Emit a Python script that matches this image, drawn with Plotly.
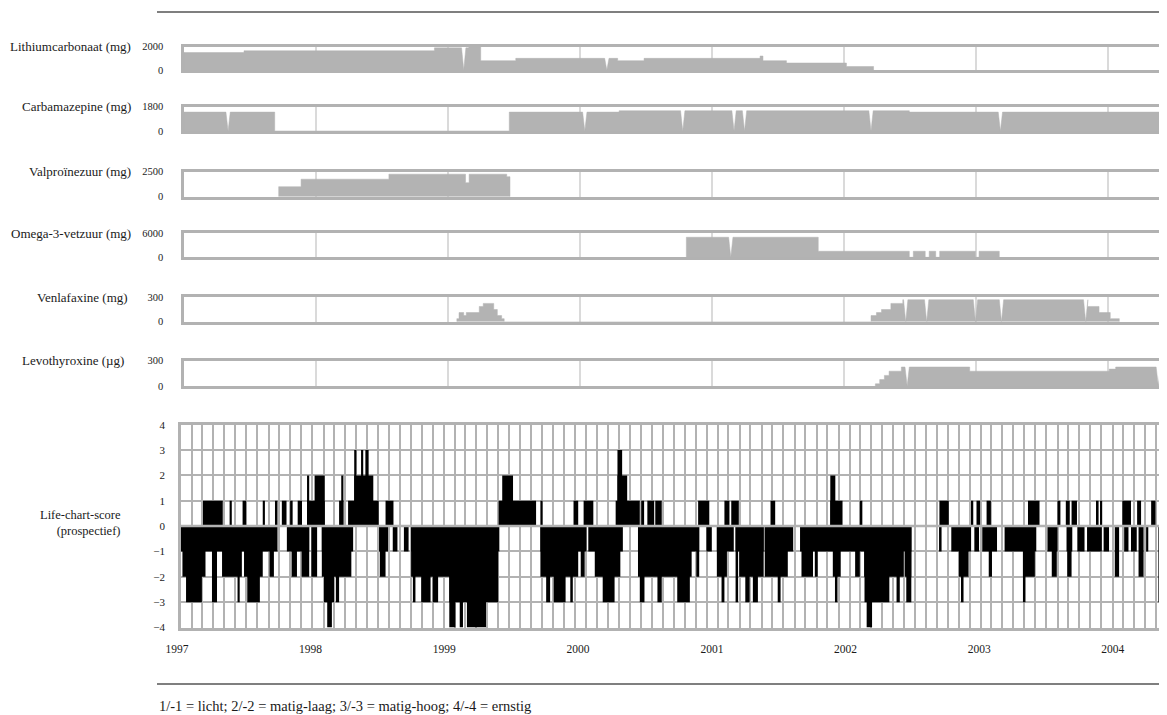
import plotly.graph_objects as go
import pandas as pd

# the page places the figure 8px from the top-left corner (default body margin)
OFF = 8
W, H = 1167 - OFF, 715 - OFF
FONT = "Liberation Serif"
GRID = "#b2b2b2"
MEDGRID = "#dadada"
FILL = "#b3b3b3"

# ---------------- medication data: dose valid from date (step) ----------------
li_dates = ["1997-01-01", "1997-06-16", "1998-11-25", "1999-02-28", "1999-04-02",
            "1999-07-08", "2000-04-15", "2000-06-27", "2001-05-14", "2001-05-22",
            "2001-07-26", "2002-01-08", "2002-03-24"]
li_doses = [1500, 1650, 1900, 2000, 800, 1000, 800, 1000, 1200, 800, 600, 300, 0]
li_notches = ["1999-02-14", "2000-03-16"]

cbz_dates = ["1997-01-01", "1997-09-09", "1999-06-20", "2000-04-19", "2002-07-01"]
cbz_doses = [1400, 0, 1400, 1500, 1400]
cbz_notches = ["1997-05-03", "2000-01-15", "2000-10-12", "2001-03-03", "2001-04-01",
               "2002-03-17", "2003-03-10"]

vpa_dates = ["1997-09-20", "1997-11-21", "1998-07-22", "1999-02-19", "1999-03-01",
             "1999-06-13", "1999-06-22"]
vpa_doses = [1000, 1750, 2250, 1400, 2250, 2000, 0]
vpa_notches = []

omg_dates = ["2000-10-22", "2001-10-22", "2002-07-01", "2002-07-12", "2002-08-14",
             "2002-08-25", "2002-09-12", "2002-09-23", "2002-12-31", "2003-01-10",
             "2003-03-07"]
omg_doses = [5000, 1500, 0, 1500, 0, 1500, 0, 1500, 0, 1500, 0]
omg_notches = ["2001-02-22"]

ven_dates = ["1999-01-26", "1999-02-01", "1999-02-14", "1999-02-21", "1999-03-29",
             "1999-04-09", "1999-05-08", "1999-05-18", "1999-05-30", "1999-06-06",
             "2002-03-17", "2002-04-01", "2002-04-15", "2002-05-11", "2002-06-13",
             "2003-11-06", "2003-12-08", "2004-01-08", "2004-02-02"]
ven_doses = [37.5, 112.5, 75, 112.5, 187.5, 225, 150, 75, 37.5, 0,
             75, 112.5, 150, 225, 270, 187.5, 112.5, 37.5, 0]
ven_notches = ["2002-06-21", "2002-08-18", "2002-12-31", "2003-03-13", "2003-11-01"]

levo_dates = ["2002-03-29", "2002-04-10", "2002-04-23", "2002-05-06", "2002-06-09",
              "2002-12-15", "2004-01-05", "2004-01-23"]
levo_doses = [25, 75, 125, 175, 225, 175, 200, 225]
levo_notches = ["2002-06-25", "2004-05-20"]

med_names = ["Lithiumcarbonaat (mg)", "Carbamazepine (mg)", "Valproïnezuur (mg)",
             "Omega-3-vetzuur (mg)", "Venlafaxine (mg)", "Levothyroxine (µg)"]
med_max = [2000, 1800, 2500, 6000, 300, 300]
med_max_labels = ["2000", "1800", "2500", "6000", "300", "300"]

# ---------------- life-chart data (episodes: start, end, score) ----------------
pos_start = ["1997-03-03", "1997-05-16", "1997-06-21", "1997-08-16", "1997-09-19",
             "1997-10-08", "1997-10-31", "1997-11-21", "1997-12-17", "1997-12-17",
             "1998-01-07", "1998-03-16", "1998-03-22", "1998-04-10", "1998-04-27",
             "1998-04-27", "1998-05-16", "1998-05-28", "1998-07-23", "1999-06-02",
             "1999-06-12", "1999-09-26", "1999-12-27", "2000-01-24", "2000-04-22",
             "2000-04-27", "2000-04-27", "2000-07-02", "2000-07-19", "2000-08-10",
             "2000-12-07", "2001-02-18", "2001-03-09", "2001-06-26", "2001-12-09",
             "2001-12-09", "2002-03-01", "2002-10-08", "2003-01-05", "2003-01-19",
             "2003-02-16", "2003-06-11", "2003-09-01", "2003-09-24", "2003-10-10",
             "2003-12-19", "2003-12-28", "2004-02-28", "2004-04-09", "2004-05-18"]
pos_end = ["1997-04-27", "1997-05-22", "1997-07-01", "1997-08-22", "1997-09-26",
           "1997-10-21", "1997-11-07", "1997-12-03", "1998-02-04", "1997-12-23",
           "1998-02-04", "1998-03-28", "1998-03-28", "1998-07-04", "1998-06-19",
           "1998-05-03", "1998-05-22", "1998-06-06", "1998-08-14", "1999-09-14",
           "1999-07-12", "1999-10-02", "2000-01-09", "2000-02-20", "2000-06-28",
           "2000-05-24", "2000-05-10", "2000-07-10", "2000-08-07", "2000-08-28",
           "2001-01-07", "2001-03-04", "2001-03-30", "2001-07-09", "2002-01-12",
           "2001-12-23", "2002-03-08", "2002-11-03", "2003-01-10", "2003-01-29",
           "2003-02-28", "2003-07-13", "2003-09-09", "2003-10-05", "2003-10-25",
           "2003-12-24", "2004-01-03", "2004-03-23", "2004-04-20", "2004-05-30"]
pos_score = [1, 1, 1, 1, 1, 1, 1, 1, 1, 2,
             2, 1, 2, 1, 2, 3, 3, 3, 1, 1,
             2, 1, 1, 1, 1, 2, 3, 1, 1, 1,
             1, 1, 1, 1, 1, 2, 1, 1, 1, 1,
             1, 1, 1, 1, 1, 1, 1, 1, 1, 1]

neg_start = ["1997-01-01", "1997-01-05", "1997-01-15", "1997-03-28", "1997-04-25",
             "1997-06-07", "1997-06-25", "1997-07-04", "1997-09-04", "1997-10-22",
             "1997-11-04", "1997-12-02", "1997-12-29", "1998-01-27", "1998-01-27",
             "1998-02-02", "1998-02-11", "1998-03-07", "1998-07-05", "1998-07-07",
             "1998-08-12", "1998-09-12", "1998-10-02", "1998-10-02", "1998-10-07",
             "1998-10-30", "1998-12-01", "1999-01-16", "1999-01-16", "1999-02-14",
             "1999-03-06", "1999-09-26", "1999-09-26", "2000-01-16", "1999-10-12",
             "1999-11-02", "1999-12-18", "2000-02-06", "2000-02-24", "2000-03-17",
             "2000-06-23", "2000-06-23", "2000-12-02", "2000-06-28", "2000-08-16",
             "2000-10-10", "2000-12-30", "2001-01-28", "2001-01-28", "2001-02-10",
             "2001-03-21", "2001-03-31", "2001-03-21", "2001-04-17", "2001-05-08",
             "2001-06-10", "2001-06-10", "2001-07-16", "2001-09-16", "2001-09-20",
             "2001-10-27", "2001-12-16", "2001-12-22", "2002-02-16", "2002-03-13",
             "2002-03-14", "2002-03-20", "2002-06-11", "2002-07-04", "2002-07-08",
             "2002-10-07", "2002-11-10", "2002-12-01", "2002-12-07", "2003-01-13",
             "2003-02-04", "2003-02-22", "2003-04-07", "2003-05-28", "2003-05-28",
             "2003-08-04", "2003-08-16", "2003-09-26", "2003-09-28", "2003-10-26",
             "2003-11-22", "2004-01-07", "2004-02-07", "2004-03-04", "2004-03-23",
             "2004-04-13", "2004-05-04", "2004-06-07"]
neg_end = ["1997-09-26", "1997-03-10", "1997-02-28", "1997-04-11", "1997-06-19",
           "1997-06-13", "1997-08-16", "1997-08-08", "1997-09-16", "1997-12-23",
           "1997-11-19", "1997-12-23", "1998-01-14", "1998-04-24", "1998-04-19",
           "1998-03-02", "1998-02-24", "1998-03-16", "1998-07-30", "1998-07-23",
           "1998-08-25", "1998-09-25", "1999-06-04", "1999-05-30", "1998-10-14",
           "1998-11-25", "1998-12-16", "1999-06-01", "1999-02-02", "1999-02-23",
           "1999-04-28", "2000-02-01", "2000-01-09", "2000-01-27", "1999-10-23",
           "1999-12-05", "1999-12-25", "2000-05-12", "2000-05-05", "2000-04-19",
           "2000-12-10", "2000-11-19", "2000-12-10", "2000-07-11", "2000-08-28",
           "2000-11-14", "2001-01-14", "2001-03-16", "2001-02-25", "2001-02-18",
           "2001-06-07", "2001-06-07", "2001-03-28", "2001-04-29", "2001-05-22",
           "2001-08-28", "2001-08-13", "2001-07-24", "2002-07-22", "2001-10-22",
           "2001-11-04", "2002-01-07", "2001-12-29", "2002-03-01", "2002-07-01",
           "2002-05-22", "2002-04-04", "2002-06-20", "2002-07-22", "2002-07-22",
           "2002-10-14", "2003-01-04", "2002-12-28", "2002-12-14", "2003-01-26",
           "2003-03-17", "2003-03-03", "2003-07-04", "2003-06-30", "2003-06-04",
           "2003-09-01", "2003-08-30", "2003-10-12", "2003-10-10", "2003-11-15",
           "2004-01-02", "2004-01-22", "2004-02-19", "2004-03-16", "2004-04-08",
           "2004-04-27", "2004-05-10", "2004-07-01"]
neg_score = [-1, -2, -3, -3, -2, -3, -2, -3, -2, -1,
             -2, -2, -2, -1, -2, -3, -4, -3, -1, -2,
             -1, -1, -1, -2, -3, -3, -3, -3, -4, -4,
             -4, -1, -2, -2, -3, -3, -3, -1, -2, -3,
             -1, -2, -2, -3, -3, -3, -1, -1, -2, -3,
             -1, -2, -3, -3, -3, -1, -2, -3, -1, -2,
             -2, -2, -3, -2, -2, -3, -4, -3, -2, -3,
             -1, -1, -2, -3, -1, -1, -2, -1, -2, -3,
             -1, -2, -1, -2, -1, -1, -1, -2, -1, -1,
             -2, -1, -3]

year_start = "1997-01-01"
med_end = "2004-06-13"
life_end = "2004-07-01"
# the printed year labels sit on a slightly wider scale than the chart grid
label_range = ["1996-12-13", "2004-05-28"]
legend_text = "1/-1 = licht; 2/-2 = matig-laag; 3/-3 = matig-hoog; 4/-4 = ernstig"

# ---------------- helpers ----------------
def build_steps(dates, doses, notches, end):
    d = list(pd.to_datetime(dates))
    nts = sorted(pd.to_datetime(notches)) if notches else []
    xs, ys = [], []
    prev = 0
    for i, (t, v) in enumerate(zip(d, doses)):
        xs += [t, t]
        ys += [prev, v]
        t_next = d[i + 1] if i + 1 < len(d) else pd.Timestamp(end)
        for n in nts:
            if t < n < t_next and v > 0:
                xs += [n - pd.Timedelta(days=6), n, n + pd.Timedelta(days=6)]
                ys += [v, 0, v]
        prev = v
    if prev != 0:
        xs.append(pd.Timestamp(end))
        ys.append(prev)
    return xs, ys


def px_y(p):
    # screen pixel (from top) -> paper fraction
    return 1 - (p - OFF) / H


def px_x(p):
    return (p - OFF) / W


med_series = [(li_dates, li_doses, li_notches), (cbz_dates, cbz_doses, cbz_notches),
              (vpa_dates, vpa_doses, vpa_notches), (omg_dates, omg_doses, omg_notches),
              (ven_dates, ven_doses, ven_notches), (levo_dates, levo_doses, levo_notches)]

# panel border positions (screen pixels: top line, bottom line)
med_px = [(46.7, 70.0), (106.7, 131.0), (171.7, 196.7), (233.2, 257.3),
          (297.3, 321.7), (360.7, 385.9)]
name_right = [133, 133, 133, 133, 130, 126]
life_px = (424.7, 627.5)

fig = go.Figure()
layout = dict(width=W, height=H,
              margin=dict(l=0, r=0, t=0, b=0, pad=0, autoexpand=False),
              paper_bgcolor="white", plot_bgcolor="rgba(0,0,0,0)", showlegend=False,
              barmode="overlay", font=dict(family=FONT, color="#1a1a1a"))
annotations = []

for i, ((dts, dss, nts), (top, bot)) in enumerate(zip(med_series, med_px)):
    k = i + 1
    xs, ys = build_steps(dts, dss, nts, med_end)
    fig.add_trace(go.Scatter(x=xs, y=ys, mode="lines", fill="tozeroy",
                             fillcolor=FILL, line=dict(color=FILL, width=0.5),
                             xaxis=f"x{k}", yaxis=f"y{k}", hoverinfo="skip"))
    layout[f"xaxis{k}"] = dict(
        type="date", range=[year_start, med_end], domain=[px_x(184), 1],
        anchor=f"y{k}", showticklabels=False, ticks="", automargin=False,
        showgrid=True, gridcolor=MEDGRID, gridwidth=2,
        dtick="M12", tick0=year_start,
        showline=True, mirror=True, linecolor=GRID, linewidth=2.5, zeroline=False)
    layout[f"yaxis{k}"] = dict(
        domain=[px_y(bot), px_y(top)], anchor=f"x{k}", range=[0, med_max[i]],
        tickvals=[0, med_max[i]], ticktext=["0", med_max_labels[i]],
        tickfont=dict(size=10.5, family=FONT), ticks="outside", ticklen=16,
        tickcolor="rgba(0,0,0,0)", showgrid=False, zeroline=False, automargin=False,
        showline=True, linecolor=GRID, linewidth=2.5)
    annotations.append(dict(text=med_names[i], x=px_x(name_right[i]), y=px_y(top),
                            xref="paper", yref="paper", xanchor="right",
                            yanchor="middle", showarrow=False,
                            font=dict(size=13, family=FONT)))

# life chart
def bars(starts, ends, vals):
    s = pd.to_datetime(starts)
    e = pd.to_datetime(ends)
    mid = s + (e - s) / 2
    width = (e - s).total_seconds() * 1000
    return go.Bar(x=mid, y=vals, width=list(width), marker=dict(color="black",
                  line=dict(width=0)), xaxis="x7", yaxis="y7", hoverinfo="skip")

fig.add_trace(bars(pos_start, pos_end, pos_score))
fig.add_trace(bars(neg_start, neg_end, neg_score))
# invisible carrier for the year-label axis
fig.add_trace(go.Scatter(x=label_range, y=[0, 0], mode="markers",
                         marker=dict(opacity=0), xaxis="x8", yaxis="y8",
                         hoverinfo="skip"))

life_dom = [px_y(life_px[1]), px_y(life_px[0])]
layout["xaxis7"] = dict(
    type="date", range=[year_start, life_end], domain=[px_x(181), 1], anchor="y7",
    dtick="M12", tick0=year_start, showticklabels=False, ticks="",
    automargin=False,
    showgrid=True, gridcolor=GRID, gridwidth=2,
    minor=dict(dtick="M1", showgrid=True, gridcolor=GRID, gridwidth=2),
    showline=True, mirror=True, linecolor=GRID, linewidth=2.5, zeroline=False)
layout["yaxis7"] = dict(
    domain=life_dom, anchor="x7", range=[-4, 4],
    dtick=1, tickfont=dict(size=11, family=FONT), ticks="outside", ticklen=11,
    tickcolor="rgba(0,0,0,0)", showgrid=True, gridcolor=GRID, gridwidth=2,
    zeroline=False, showline=True, linecolor=GRID, linewidth=2.5, automargin=False)
layout["xaxis8"] = dict(
    type="date", range=label_range, domain=[px_x(170), 1], anchor="y8",
    dtick="M12", tick0=year_start, tickformat="%Y", automargin=False,
    tickfont=dict(size=11.5, family=FONT), ticks="outside", ticklen=11,
    tickcolor="rgba(0,0,0,0)", showgrid=False, showline=False, zeroline=False)
layout["yaxis8"] = dict(domain=life_dom, anchor="x8", range=[-4, 4], visible=False,
                        showgrid=False, zeroline=False, automargin=False)

annotations.append(dict(text="Life-chart-score<br>(prospectief)", x=px_x(123),
                        y=px_y(523), xref="paper", yref="paper", xanchor="right",
                        yanchor="middle", align="right", showarrow=False,
                        font=dict(size=12.5, family=FONT)))
annotations.append(dict(text=legend_text, x=px_x(157), y=px_y(706), xref="paper",
                        yref="paper", xanchor="left", yanchor="middle",
                        showarrow=False, font=dict(size=14.5, family=FONT)))

layout["annotations"] = annotations
layout["shapes"] = [
    dict(type="line", xref="paper", yref="paper", x0=px_x(157), x1=1,
         y0=px_y(12), y1=px_y(12), line=dict(color="#555555", width=1.5)),
    dict(type="line", xref="paper", yref="paper", x0=px_x(157), x1=1,
         y0=px_y(684), y1=px_y(684), line=dict(color="#555555", width=1.5)),
    dict(type="line", xref="x7 domain", yref="y7", x0=0, x1=1, y0=0, y1=0,
         layer="above", line=dict(color=GRID, width=2.5)),
]

fig.update_layout(**layout)
fig.write_html("out.html")
